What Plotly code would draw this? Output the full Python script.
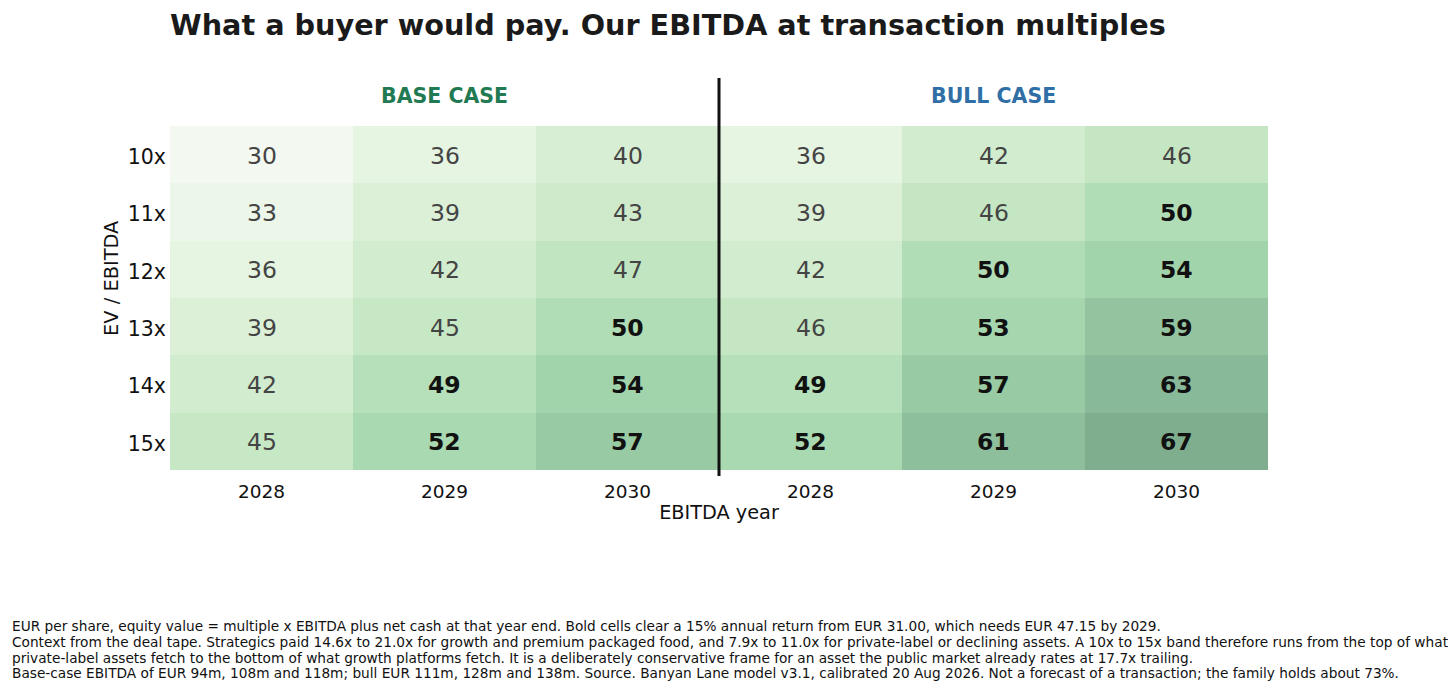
import plotly.graph_objects as go

# ---- data ----
years = ["2028", "2029", "2030", "2028", "2029", "2030"]
multiples = ["10x", "11x", "12x", "13x", "14x", "15x"]
base_2028 = [30, 33, 36, 39, 42, 45]
base_2029 = [36, 39, 42, 45, 49, 52]
base_2030 = [40, 43, 47, 50, 54, 57]
bull_2028 = [36, 39, 42, 46, 49, 52]
bull_2029 = [42, 46, 50, 53, 57, 61]
bull_2030 = [46, 50, 54, 59, 63, 67]
hurdle = 47.15
case_labels = ["BASE CASE", "BULL CASE"]
footnote_lines = [
    "EUR per share, equity value = multiple x EBITDA plus net cash at that year end. Bold cells clear a 15% annual return from EUR 31.00, which needs EUR 47.15 by 2029.",
    "Context from the deal tape. Strategics paid 14.6x to 21.0x for growth and premium packaged food, and 7.9x to 11.0x for private-label or declining assets. A 10x to 15x band therefore runs from the top of what",
    "private-label assets fetch to the bottom of what growth platforms fetch. It is a deliberately conservative frame for an asset the public market already rates at 17.7x trailing.",
    "Base-case EBITDA of EUR 94m, 108m and 118m; bull EUR 111m, 128m and 138m. Source. Banyan Lane model v3.1, calibrated 20 Aug 2026. Not a forecast of a transaction; the family holds about 73%.",
]

columns = [base_2028, base_2029, base_2030, bull_2028, bull_2029, bull_2030]
n_rows = len(multiples)
n_cols = len(columns)
z = [[columns[c][r] for c in range(n_cols)] for r in range(n_rows)]

FONT = "DejaVu Sans"

# page has an 8px body margin; figure sized so the plot lands where the reference has it
OFF = 8
W, H = 1440, 674
ML, MR, MT, MB = 162, 180, 118, 212
PW = W - ML - MR
PH = H - MT - MB


def px_x(page_x):
    return (page_x - OFF - ML) / PW


def px_y(page_y):
    return (MT + PH - (page_y - OFF)) / PH


colorscale = [
    [0.00, "#f3f9f0"],
    [0.16, "#e6f4e2"],
    [0.32, "#d2ecce"],
    [0.46, "#c0e5c0"],
    [0.54, "#b0ddb5"],
    [0.65, "#a1d4ab"],
    [0.76, "#95c7a1"],
    [0.88, "#89ba99"],
    [1.00, "#7eae8e"],
]

fig = go.Figure()
fig.add_trace(go.Heatmap(
    z=z,
    x=list(range(n_cols)),
    y=list(range(n_rows)),
    colorscale=colorscale,
    zmin=min(min(c) for c in columns),
    zmax=max(max(c) for c in columns),
    showscale=False,
    hoverinfo="skip",
))

# cell labels: bold and darker where the value clears the hurdle
for r in range(n_rows):
    for c in range(n_cols):
        v = columns[c][r]
        bold = v > hurdle
        fig.add_annotation(
            x=c, y=r, xref="x", yref="y",
            text=f"<b>{v}</b>" if bold else str(v),
            showarrow=False, xanchor="center", yanchor="middle", yshift=-1,
            font=dict(family=FONT, size=23.5, color="#111111" if bold else "#444444"),
        )

fig.add_shape(type="line", xref="x", yref="paper", x0=2.5, x1=2.5,
              y0=px_y(476), y1=px_y(78), line=dict(color="#111111", width=3))

fig.add_annotation(x=1, y=px_y(96), xref="x", yref="paper", text=f"<b>{case_labels[0]}</b>",
                   showarrow=False, yanchor="middle",
                   font=dict(family=FONT, size=20.5, color="#217a52"))
fig.add_annotation(x=4, y=px_y(96), xref="x", yref="paper", text=f"<b>{case_labels[1]}</b>",
                   showarrow=False, yanchor="middle",
                   font=dict(family=FONT, size=20.5, color="#2f6fa6"))

# y-axis title (sits a little above the plot's vertical centre in the reference)
fig.add_annotation(x=px_x(111), y=px_y(278), xref="paper", yref="paper", text="EV / EBITDA",
                   textangle=-90, showarrow=False, xanchor="center", yanchor="middle",
                   font=dict(family=FONT, size=19.4, color="#111111"))

line_centers = [626, 642, 657.5, 673]
for txt, cy in zip(footnote_lines, line_centers):
    fig.add_annotation(x=px_x(10), y=px_y(cy), xref="paper", yref="paper", text=txt,
                       showarrow=False, xanchor="left", yanchor="middle", align="left",
                       font=dict(family=FONT, size=13.7, color="#111111"))

fig.update_layout(
    width=W, height=H,
    margin=dict(l=ML, r=MR, t=MT, b=MB, pad=0),
    paper_bgcolor="white", plot_bgcolor="white",
    font=dict(family=FONT, color="#111111"),
    title=dict(text="<b>What a buyer would pay. Our EBITDA at transaction multiples</b>",
               x=(170 - OFF) / W, xanchor="left", y=1 - (25 - OFF) / H, yanchor="middle",
               font=dict(family=FONT, size=28.7, color="#1a1a1a")),
    xaxis=dict(tickvals=list(range(n_cols)), ticktext=years, range=[-0.5, n_cols - 0.5],
               showgrid=False, zeroline=False, showline=False, ticks="",
               tickfont=dict(family=FONT, size=18.5, color="#111111"), ticklabelstandoff=8,
               title=dict(text="EBITDA year", font=dict(family=FONT, size=19.3, color="#111111"), standoff=4)),
    yaxis=dict(tickvals=list(range(n_rows)), ticktext=multiples, range=[n_rows - 0.5, -0.5],
               showgrid=False, zeroline=False, showline=False, ticks="",
               tickfont=dict(family=FONT, size=20.5, color="#111111"), ticklabelstandoff=3,
               ticklabelshift=-2),
    showlegend=False,
)

fig.write_html("out.html")
